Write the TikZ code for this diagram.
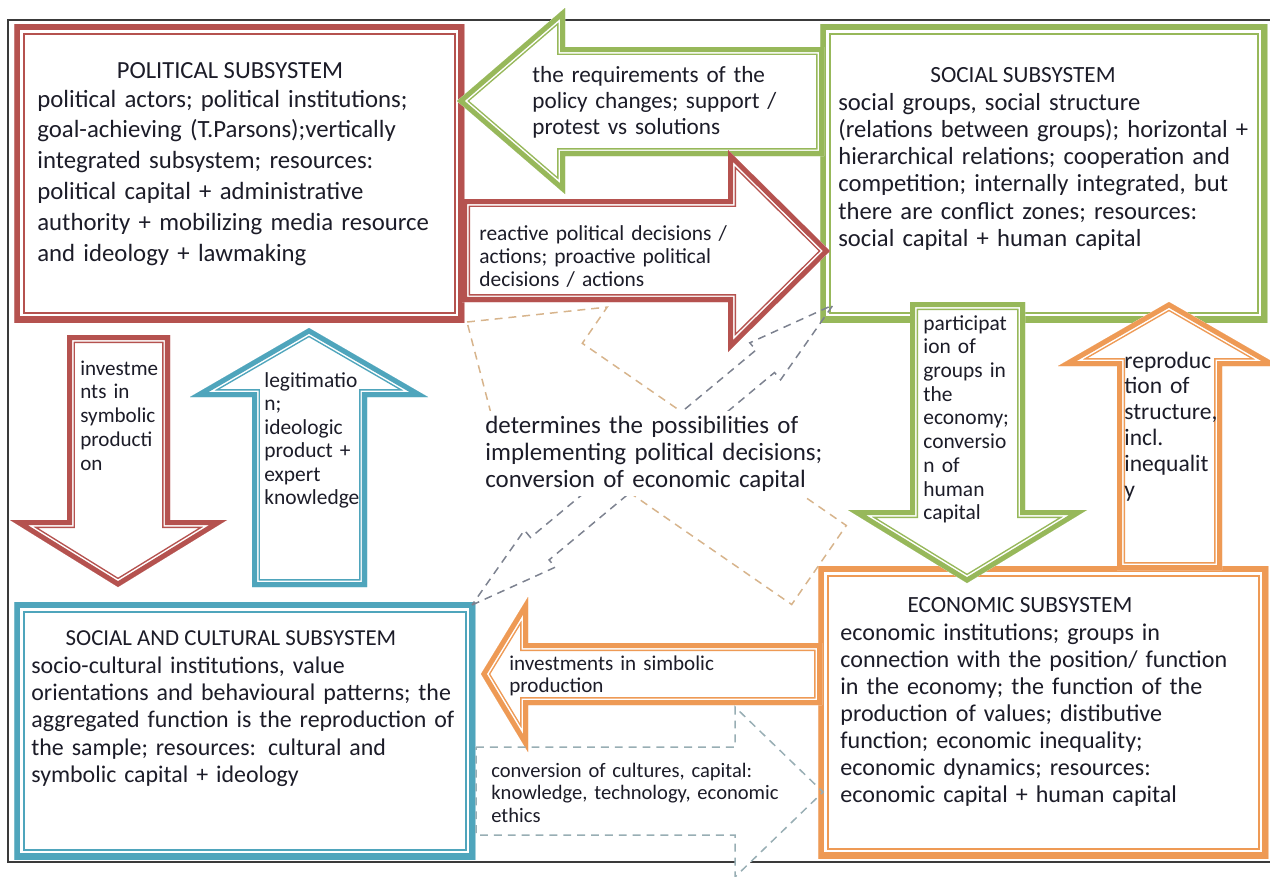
\documentclass[tikz,border=0pt]{standalone}
\usepackage{fontspec}
\setmainfont{Carlito}
\usepackage{xcolor}
\definecolor{ink}{HTML}{1C1C28}
\definecolor{framegray}{HTML}{3A3A3A}
\definecolor{polred}{HTML}{B5524F}
\definecolor{socgreen}{HTML}{97B85A}
\definecolor{culteal}{HTML}{4FA5BC}
\definecolor{ecoorange}{HTML}{EE9A55}
\definecolor{tandash}{HTML}{D7B48C}
\definecolor{greydash}{HTML}{7D8290}
\definecolor{bluedash}{HTML}{98AEB4}
\newcommand{\setfs}[2]{\fontsize{#1}{#2}\selectfont}
% block arrow with a thick outer and a thin inner outline
\newcommand{\dblarrow}[2]{%
  \fill[white] #2 -- cycle;
  \begin{scope}
    \clip #2 -- cycle;
    \draw[#1,line width=9.1pt] #2 -- cycle;
    \draw[white,line width=7.4pt] #2 -- cycle;
    \draw[#1,line width=5.7pt] #2 -- cycle;
  \end{scope}}
\tikzset{
  sysbox/.style={rectangle,fill=white,inner sep=0pt,anchor=north west,
    path picture={
      \draw[#1,line width=11.9pt] (path picture bounding box.south west)
        rectangle (path picture bounding box.north east);
      \draw[white,line width=9.6pt] (path picture bounding box.south west)
        rectangle (path picture bounding box.north east);
      \draw[#1,line width=6.8pt] (path picture bounding box.south west)
        rectangle (path picture bounding box.north east);}},
  systitle/.style={anchor=base,inner sep=0pt,text=ink},
  txt/.style={anchor=base west,inner sep=0pt,align=left,text=ink,
              text width=#1},
  dashline/.style={line width=0.85pt,dash pattern=on 4.5pt off 3.4pt}
}

\begin{document}
\begin{tikzpicture}[x=0.02cm,y=-0.02cm]
  \useasboundingbox (0,0) rectangle (1270,876);
  \draw[framegray,line width=1.1pt] (1270,20) -- (8,20) -- (8,862) -- (1270,862);
  \fill[white] (475,747) -- (735,747) -- (735,707) -- (823,792) -- (735,877)
    -- (735,835) -- (475,835) -- cycle;

  \node[sysbox=polred,minimum width=9cm,minimum height=5.96cm] (pol) at (14,24) {};
  \node[sysbox=socgreen,minimum width=8.94cm,minimum height=5.96cm] (soc) at (820,24) {};
  \node[sysbox=culteal,minimum width=9.22cm,minimum height=5.14cm] (cult) at (14,602) {};
  \node[sysbox=ecoorange,minimum width=9cm,minimum height=5.84cm] (eco) at (818,566) {};

  \dblarrow{socgreen}{(457,101) -- (565,8) -- (565,47) -- (824,47) -- (824,156)
    -- (565,156) -- (565,194)}
  \dblarrow{polred}{(462,199) -- (728,199) -- (728,150) -- (830,251) -- (728,352)
    -- (728,302) -- (462,302)}
  \dblarrow{polred}{(67,335) -- (170,335) -- (170,520) -- (227,520) -- (118,587)
    -- (10,520) -- (67,520)}
  \dblarrow{culteal}{(252,587) -- (252,397) -- (190,397) -- (309,328) -- (428,397)
    -- (367,397) -- (367,587)}
  \dblarrow{socgreen}{(910,302) -- (1025,302) -- (1025,510) -- (1087,510)
    -- (967,583) -- (848,510) -- (910,510)}
  \dblarrow{ecoorange}{(1117,570) -- (1117,366) -- (1058,366) -- (1169,302)
    -- (1280,366) -- (1222,366) -- (1222,570)}
  \dblarrow{ecoorange}{(481,674) -- (528,597) -- (528,643) -- (822,643) -- (822,705)
    -- (528,705) -- (528,752)}

  \draw[dashline,tandash] (467,322) -- (607.2,307.1) -- (582.3,343.3) -- (846.3,525.5)
    -- (791.7,604.5) -- (527.7,422.3) -- (502.8,458.5) -- cycle;
  \draw[dashline,greydash] (472,605) -- (555.2,567.2) -- (549.1,559.9) -- (774.5,372.5)
    -- (780.6,379.8) -- (833,305) -- (749.8,342.8) -- (755.9,350.1) -- (530.5,537.5)
    -- (524.4,530.2) -- cycle;
  \draw[dashline,bluedash] (476,747) -- (735,747) -- (735,707) -- (823,792) -- (735,877)
    -- (735,835) -- (476,835) -- cycle;
  \fill[white] (480,411) rectangle (832,496);

  \node[systitle,font=\setfs{14}{17}] (poltitle) at (230,78) {POLITICAL SUBSYSTEM};
  \node[txt=9cm,font=\setfs{14.1}{17.57}] (poltext) at (37,107)
    {political actors; political institutions;\\goal-achieving (T.Parsons);vertically\\
     integrated subsystem; resources:\\political capital + administrative\\
     authority + mobilizing media resource\\and ideology + lawmaking};
  \node[systitle,font=\setfs{13.2}{16}] (soctitle) at (1023,82) {SOCIAL SUBSYSTEM};
  \node[txt=9cm,font=\setfs{14}{15.53}] (soctext) at (838,110)
    {social groups, social structure\\(relations between groups); horizontal +\\
     hierarchical relations; cooperation and\\competition; internally integrated, but\\
     there are conflict zones; resources:\\social capital + human capital};
  \node[systitle,font=\setfs{13}{16}] (culttitle) at (231,645) {SOCIAL AND CULTURAL SUBSYSTEM};
  \node[txt=9cm,font=\setfs{13.6}{15.6}] (culttext) at (31,673)
    {socio-cultural institutions, value\\orientations and behavioural patterns; the\\
     aggregated function is the reproduction of\\the sample; resources: cultural and\\
     symbolic capital + ideology};
  \node[systitle,font=\setfs{13.2}{16}] (ecotitle) at (1020,612) {ECONOMIC SUBSYSTEM};
  \node[txt=9cm,font=\setfs{13.7}{15.4}] (ecotext) at (840,640)
    {economic institutions; groups in\\connection with the position/ function\\
     in the economy; the function of the\\production of values; distibutive\\
     function; economic inequality;\\economic dynamics; resources:\\
     economic capital + human capital};

  \node[txt=6cm,font=\setfs{13.2}{15}] (demands) at (532,82)
    {the requirements of the\\policy changes; support /\\protest vs solutions};
  \node[txt=6cm,font=\setfs{12.2}{13.3}] (decisions) at (479,240)
    {reactive political decisions /\\actions; proactive political\\decisions / actions};
  \node[txt=3cm,font=\setfs{12}{13.6}] (invsym) at (80,375)
    {investme\\nts in\\symbolic\\producti\\on};
  \node[txt=3cm,font=\setfs{12.2}{13.4}] (legit) at (264,387)
    {legitimatio\\n;\\ideologic\\product +\\expert\\knowledge};
  \node[txt=3cm,font=\setfs{12.2}{13.5}] (particip) at (923,330)
    {participat\\ion of\\groups in\\the\\economy;\\conversio\\n of\\human\\capital};
  \node[txt=3cm,font=\setfs{13.4}{14.7}] (reprod) at (1124,368)
    {reproduc\\tion of\\structure,\\incl.\\inequalit\\y};
  \node[txt=6cm,font=\setfs{12}{13}] (invsimb) at (509,670)
    {investments in simbolic\\production};
  \node[txt=7cm,font=\setfs{11.7}{13}] (convcult) at (491,777)
    {conversion of cultures, capital:\\knowledge, technology, economic\\ethics};
  \node[txt=7cm,font=\setfs{14.2}{15.4}] (determ) at (485,433)
    {determines the possibilities of\\implementing political decisions;\\conversion of economic capital};
\end{tikzpicture}
\end{document}
